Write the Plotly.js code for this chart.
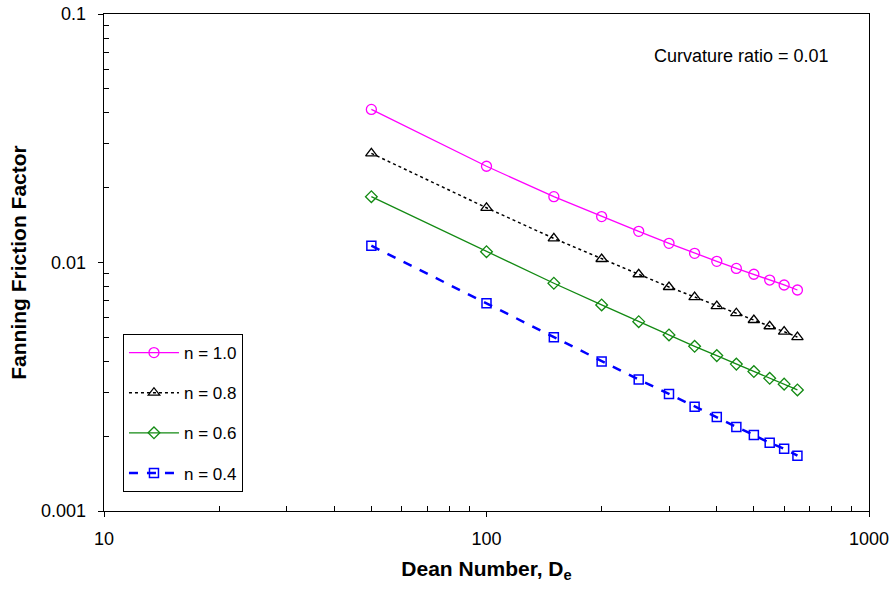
<!DOCTYPE html>
<html>
<head>
<meta charset="utf-8">
<script src="https://cdn.plot.ly/plotly-3.0.1.min.js"></script>
<style>html,body{margin:0;padding:0;background:#fff;}#chart{width:894px;height:590px;}</style>
</head>
<body>
<div id="chart"></div>
<script>
const deanNumber = [50, 100, 150, 200, 250, 300, 350, 400, 450, 500, 550, 600, 650];
const fN10 = [0.0413, 0.0244, 0.0184, 0.0153, 0.01335, 0.01194, 0.01089, 0.01011, 0.00947, 0.00897, 0.00850, 0.00812, 0.00775];
const fN08 = [0.0275, 0.0166, 0.0125, 0.01033, 0.00897, 0.00797, 0.00726, 0.00668, 0.00625, 0.00587, 0.00554, 0.00527, 0.00501];
const fN06 = [0.0184, 0.01105, 0.00825, 0.00675, 0.00578, 0.00511, 0.00460, 0.00422, 0.00390, 0.00364, 0.00342, 0.00324, 0.00307];
const fN04 = [0.01168, 0.00685, 0.00500, 0.00400, 0.00338, 0.00296, 0.00263, 0.00239, 0.00218, 0.00202, 0.00188, 0.00178, 0.00167];
const seriesNames = ["n = 1.0", "n = 0.8", "n = 0.6", "n = 0.4"];
const xTickVals = [10, 100, 1000];
const xTickText = ["10", "100", "1000"];
const yTickVals = [0.001, 0.01, 0.1];
const yTickText = ["0.001", "0.01", "0.1"];
const minorDigits = [2, 3, 4, 5, 6, 7, 8, 9];

const xMinor = [];
[10, 100].forEach(d => minorDigits.forEach(m => xMinor.push(d * m)));
const yMinor = [];
[0.001, 0.01].forEach(d => minorDigits.forEach(m => yMinor.push(d * m)));

const font = "Liberation Sans, Arial, sans-serif";

const traces = [
  {x: deanNumber, y: fN10, name: seriesNames[0], mode: "lines+markers", legendgroup: "a",
   line: {color: "#FF00FF", width: 1.3},
   marker: {symbol: "circle-open", size: 10, color: "#FF00FF", line: {width: 1.3}}},
  {x: deanNumber, y: fN08, name: seriesNames[1], mode: "lines+markers", legendgroup: "b",
   line: {color: "#000000", width: 1.5, dash: "dot"},
   marker: {symbol: "triangle-up-open", size: 10, color: "#000000", line: {width: 1.3}}},
  {x: deanNumber, y: fN06, name: seriesNames[2], mode: "lines+markers", legendgroup: "c",
   line: {color: "#138A13", width: 1.3},
   marker: {symbol: "diamond-open", size: 9, color: "#138A13", line: {width: 1.3}}},
  {x: deanNumber, y: fN04, name: seriesNames[3], mode: "lines+markers", legendgroup: "d",
   line: {color: "#0000FF", width: 2.5, dash: "dash"},
   marker: {symbol: "square-open", size: 9, color: "#0000FF", line: {width: 1.5}}}
];

const layout = {
  width: 894, height: 590,
  margin: {l: 104, r: 25, t: 14, b: 79},
  paper_bgcolor: "#fff", plot_bgcolor: "#fff",
  font: {family: font, size: 17, color: "#000"},
  showlegend: true,
  legend: {
    x: 0.0248, y: 0.356, xanchor: "left", yanchor: "top",
    bordercolor: "#000", borderwidth: 1, bgcolor: "#fff",
    traceorder: "grouped", tracegroupgap: 15,
    font: {family: font, size: 17},
    itemwidth: 50
  },
  xaxis: {
    type: "log", range: [1, 3],
    tickmode: "array", tickvals: xTickVals, ticktext: xTickText,
    ticks: "outside", ticklen: 5, tickcolor: "#000", tickwidth: 1,
    ticklabelstandoff: 6,
    minor: {tickmode: "array", tickvals: xMinor, ticks: "inside", ticklen: 5, tickcolor: "#000", tickwidth: 1, showgrid: false},
    showgrid: false, zeroline: false,
    showline: true, linecolor: "#000", linewidth: 1.3, mirror: true,
    tickfont: {family: font, size: 18},
    title: {text: "<b>Dean Number, D<sub>e</sub></b>", font: {family: font, size: 21}, standoff: 13}
  },
  yaxis: {
    type: "log", range: [-3, -1],
    tickmode: "array", tickvals: yTickVals, ticktext: yTickText,
    ticks: "outside", ticklen: 5, tickcolor: "#000", tickwidth: 1,
    ticklabelstandoff: 8,
    minor: {tickmode: "array", tickvals: yMinor, ticks: "inside", ticklen: 5, tickcolor: "#000", tickwidth: 1, showgrid: false},
    showgrid: false, zeroline: false,
    showline: true, linecolor: "#000", linewidth: 1.3, mirror: true,
    tickfont: {family: font, size: 18},
    title: {text: "<b>Fanning Friction Factor</b>", font: {family: font, size: 21}, standoff: 8}
  },
  annotations: [{
    text: "Curvature ratio = 0.01", xref: "paper", yref: "paper",
    x: 0.8327, y: 0.916, xanchor: "center", yanchor: "middle",
    showarrow: false, font: {family: font, size: 18}
  }]
};

Plotly.newPlot("chart", traces, layout, {staticPlot: true, displayModeBar: false});
</script>
</body>
</html>
